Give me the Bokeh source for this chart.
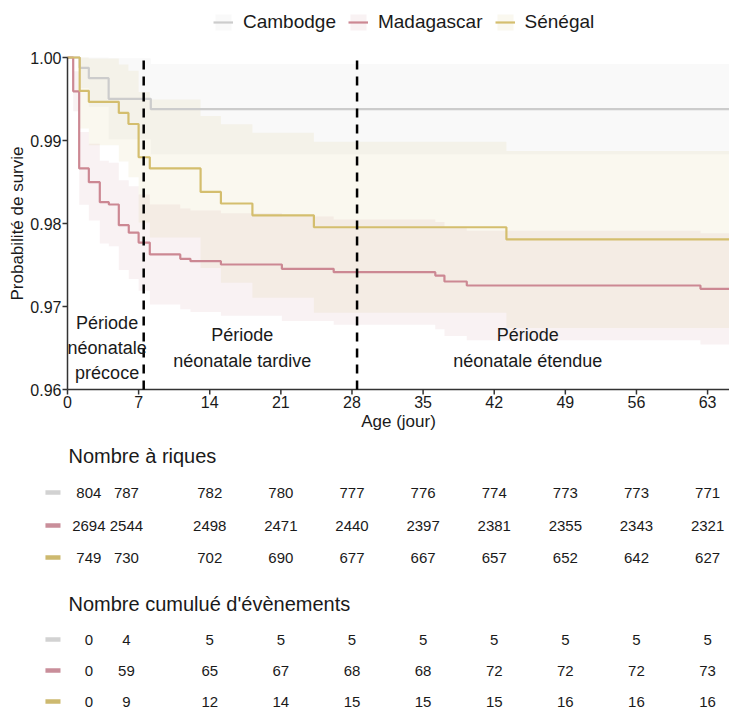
from bokeh.plotting import figure
from bokeh.models import Range1d, Legend, LegendItem
from bokeh.layouts import column
from bokeh.embed import file_html
from bokeh.resources import INLINE
from bokeh.core.properties import value
import math

FONT = "Liberation Sans"
TXT = "#1a1a1a"
AXIS = "#333333"

# ---------------- data ----------------
countries = ["Cambodge", "Madagascar", "Sénégal"]
line_colors = ["#cccccc", "#cc8893", "#d4be6e"]
mark_colors = ["#d2d2d2", "#c98e9a", "#cdb96f"]

# Kaplan-Meier steps (time in days, survival, 95% CI)
time_cam = [0, 1.2, 2.1, 4.05, 8.2, 66]
surv_cam = [1.0, 0.99876, 0.99751, 0.99502, 0.99378, 0.99378]
low_cam = [1.0, 0.99633, 0.99406, 0.99014, 0.98833, 0.98833]
upp_cam = [1.0, 1.0, 1.0, 0.9999, 0.99923, 0.99923]

time_mad = [0, 0.56, 1.15, 2.1, 3.18, 4.07, 5.05, 6.03, 7.0, 8.1, 11.1, 12.1,
            15.1, 21.1, 26.2, 36.2, 37.1, 39.3, 62.3, 66]
surv_mad = [1.0, 0.99592, 0.98664, 0.98498, 0.98257, 0.98229, 0.97980, 0.97890,
            0.97770, 0.97627, 0.97575, 0.97546, 0.97506, 0.97454, 0.97413,
            0.97373, 0.97301, 0.97253, 0.97213, 0.97213]
low_mad = [1.0, 0.99351, 0.98227, 0.98035, 0.97759, 0.97726, 0.97440, 0.97330,
           0.97191, 0.97024, 0.96968, 0.96935, 0.96890, 0.96824, 0.96779,
           0.96727, 0.96645, 0.96593, 0.96543, 0.96543]
upp_mad = [1.0, 0.99833, 0.99101, 0.98961, 0.98755, 0.98732, 0.98520, 0.98450,
           0.98349, 0.98230, 0.98182, 0.98157, 0.98122, 0.98084, 0.98047,
           0.98019, 0.97957, 0.97913, 0.97883, 0.97883]

time_sen = [0, 1.2, 2.1, 5.05, 6.0, 7.0, 8.1, 13.1, 15.1, 18.2, 24.25, 43.2, 66]
surv_sen = [1.0, 0.99599, 0.99466, 0.99332, 0.99199, 0.98798, 0.98663, 0.98380,
            0.98241, 0.98099, 0.97955, 0.97808, 0.97808]
low_sen = [1.0, 0.99146, 0.98943, 0.98747, 0.98558, 0.98013, 0.97832, 0.97465,
           0.97286, 0.97105, 0.96926, 0.96742, 0.96742]
upp_sen = [1.0, 1.0, 0.99989, 0.99917, 0.99840, 0.99583, 0.99494, 0.99295,
           0.99196, 0.99093, 0.98984, 0.98874, 0.98874]

x_ticks = [0, 7, 14, 21, 28, 35, 42, 49, 56, 63]
x_tick_labels = ["0", "7", "14", "21", "28", "35", "42", "49", "56", "63"]
y_ticks = [0.96, 0.97, 0.98, 0.99, 1.00]
y_tick_labels = ["0.96", "0.97", "0.98", "0.99", "1.00"]
y_bounds = (0.96, 1.00)
period_bounds = [7.5, 28.5]

period_text = ["Période", "néonatale", "précoce",
               "Période", "néonatale tardive",
               "Période", "néonatale étendue"]
period_x = [3.9, 3.9, 3.9, 17.2, 17.2, 45.3, 45.3]
period_y = [0.96807, 0.96494, 0.96193, 0.96651, 0.96349, 0.96651, 0.96349]

table_times = [0, 7, 14, 21, 28, 35, 42, 49, 56, 63]
risk_cam = [804, 787, 782, 780, 777, 776, 774, 773, 773, 771]
risk_mad = [2694, 2544, 2498, 2471, 2440, 2397, 2381, 2355, 2343, 2321]
risk_sen = [749, 730, 702, 690, 677, 667, 657, 652, 642, 627]
cum_cam = [0, 4, 5, 5, 5, 5, 5, 5, 5, 5]
cum_mad = [0, 59, 65, 67, 68, 68, 72, 72, 72, 73]
cum_sen = [0, 9, 12, 14, 15, 15, 15, 16, 16, 16]

table_titles = ["Nombre à riques", "Nombre cumulué d'évènements"]

# ---------------- layout constants ----------------
FIG_W = 729
LEFT = 67                 # pixel of day 0
PXD = 10.16               # pixels per day
X_START = -LEFT / PXD
X_END = X_START + FIG_W / PXD
PLOT_TOP_PX = 57          # y pixel of 1.00
PX_PER_UNIT = 332 / 0.04  # pixels per survival unit
P1_H = 436
TABLE_H = 273
TICK = 5

Y_END = 1.0 + PLOT_TOP_PX / PX_PER_UNIT
Y_START = Y_END - P1_H / PX_PER_UNIT

x_range = Range1d(X_START, X_END)

# ---------------- main plot ----------------
p1 = figure(frame_width=FIG_W, frame_height=P1_H,
            x_range=x_range, y_range=Range1d(Y_START, Y_END),
            x_axis_location=None, y_axis_location=None,
            output_backend="svg", toolbar_location=None, min_border=0)
p1.xgrid.visible = False
p1.ygrid.visible = False
p1.outline_line_color = None

series = [(time_cam, surv_cam, low_cam, upp_cam),
          (time_mad, surv_mad, low_mad, upp_mad),
          (time_sen, surv_sen, low_sen, upp_sen)]

bands = []
for (t, s, lo, up), col in zip(series, line_colors):
    b = p1.varea_step(x=t, y1=lo, y2=up, step_mode="after",
                      fill_color=col, fill_alpha=0.11)
    bands.append(b)
lines = []
for (t, s, lo, up), col in zip(series, line_colors):
    r = p1.step(x=t, y=s, mode="after", line_color=col, line_width=2.2)
    lines.append(r)

# axes, drawn on the plot's own scales
tick_len_y = TICK / PX_PER_UNIT
tick_len_x = TICK / PXD
p1.segment(x0=[0], x1=[0], y0=[y_bounds[0]], y1=[y_bounds[1]],
           line_color=AXIS, line_width=1.5)
p1.segment(x0=[0], x1=[X_END], y0=[y_bounds[0]], y1=[y_bounds[0]],
           line_color=AXIS, line_width=1.5)
p1.segment(x0=[-tick_len_x] * len(y_ticks), x1=[0] * len(y_ticks),
           y0=y_ticks, y1=y_ticks, line_color=AXIS, line_width=1.5)
p1.segment(x0=x_ticks, x1=x_ticks, y0=[y_bounds[0]] * len(x_ticks),
           y1=[y_bounds[0] - tick_len_y] * len(x_ticks),
           line_color=AXIS, line_width=1.5)
p1.text(x=[0] * len(y_ticks), y=y_ticks, text=y_tick_labels,
        x_offset=-(TICK + 1), text_font=value(FONT), text_font_size="16px",
        text_align="right", text_baseline="middle", text_color=TXT)
p1.text(x=x_ticks, y=[y_bounds[0]] * len(x_ticks), text=x_tick_labels,
        y_offset=TICK + 1, text_font=value(FONT), text_font_size="16px",
        text_align="center", text_baseline="top", text_color=TXT)
p1.text(x=[(17 - LEFT) / PXD], y=[sum(y_bounds) / 2],
        text=["Probabilité de survie"], angle=math.pi / 2,
        text_font=value(FONT), text_font_size="17px", text_align="center",
        text_baseline="middle", text_color=TXT)
p1.text(x=[(398 - LEFT) / PXD], y=[y_bounds[0]], text=["Age (jour)"],
        y_offset=32, text_font=value(FONT), text_font_size="17px",
        text_align="center", text_baseline="middle", text_color=TXT)

p1.segment(x0=period_bounds, x1=period_bounds,
           y0=[y_bounds[0]] * len(period_bounds),
           y1=[y_bounds[1]] * len(period_bounds),
           line_color="black", line_dash="9 7", line_width=2.5)

p1.text(x=period_x, y=period_y, text=period_text, text_font=value(FONT),
        text_font_size="18px", text_align="center", text_baseline="middle",
        text_color=TXT)

items = [LegendItem(label=c, renderers=[b, l])
         for c, b, l in zip(countries, bands, lines)]
legend = Legend(items=items, orientation="horizontal",
                location=(213, P1_H - 33),
                label_text_font=FONT, label_text_font_size="19px",
                label_text_color=TXT, glyph_width=20, glyph_height=20,
                label_height=20, label_standoff=10, spacing=12, padding=0,
                margin=0, border_line_color=None, background_fill_alpha=0)
p1.add_layout(legend)

# ---------------- tables ----------------
p2 = figure(frame_width=FIG_W, frame_height=TABLE_H,
            x_range=x_range, y_range=Range1d(TABLE_H, 0),
            x_axis_location=None, y_axis_location=None,
            output_backend="svg", toolbar_location=None, min_border=0)
p2.xgrid.visible = False
p2.ygrid.visible = False
p2.outline_line_color = None

COL_SHIFT = [2.1, -1.2] + [0] * (len(table_times) - 2)
col_x = [t + d for t, d in zip(table_times, COL_SHIFT)]

title_y = [19, 167]
row_y = [[56, 89, 121], [203, 234, 265]]
tables = [[risk_cam, risk_mad, risk_sen], [cum_cam, cum_mad, cum_sen]]

p2.text(x=[0.1, 0.1], y=title_y, text=table_titles, text_font=value(FONT),
        text_font_size="20px", text_align="left", text_baseline="middle",
        text_color=TXT)

KEY_X = (-2.17, -0.69)
for tbl, ys in zip(tables, row_y):
    for vals, yy, mc in zip(tbl, ys, mark_colors):
        p2.text(x=col_x, y=[yy] * len(vals), text=[str(v) for v in vals],
                text_font=value(FONT), text_font_size="15px",
                text_align="center", text_baseline="middle", text_color=TXT)
        p2.segment(x0=[KEY_X[0]], x1=[KEY_X[1]], y0=[yy], y1=[yy],
                   line_color=mc, line_width=4.5, line_cap="butt")

layout = column(p1, p2, spacing=0)
open("out.html", "w").write(file_html(layout, INLINE))
